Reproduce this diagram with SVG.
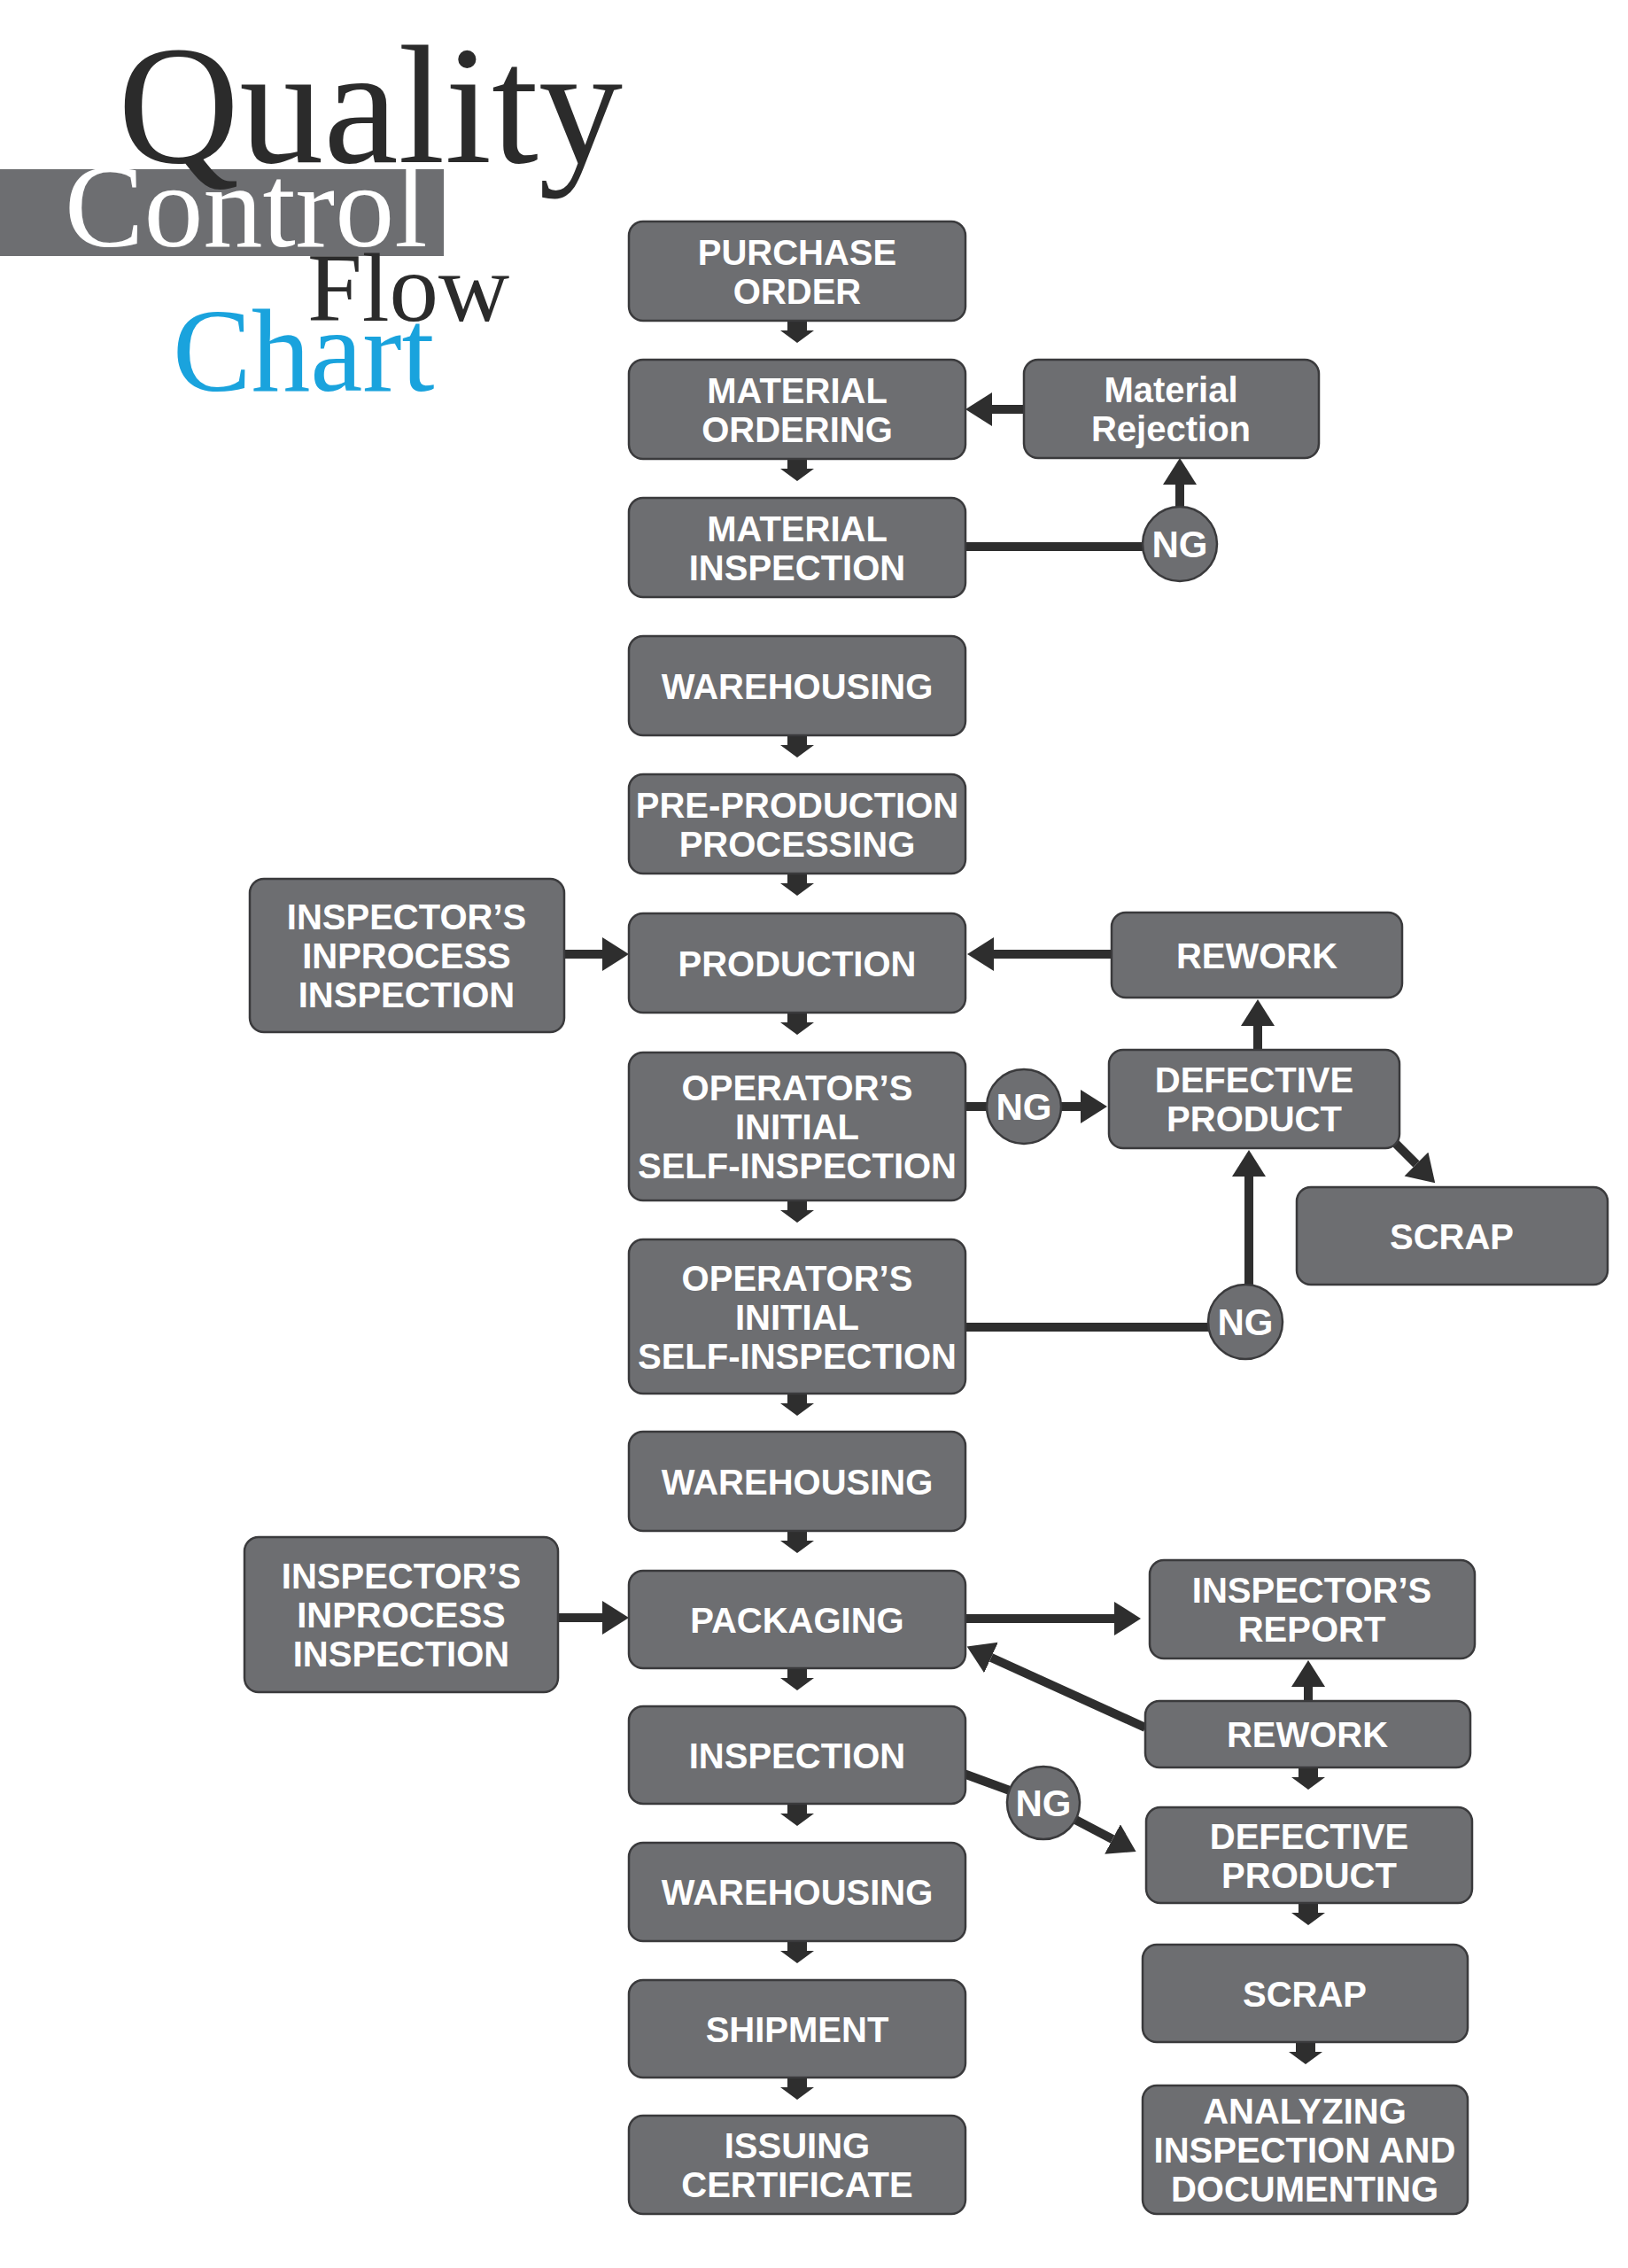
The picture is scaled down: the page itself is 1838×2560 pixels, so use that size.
<svg xmlns="http://www.w3.org/2000/svg" xmlns:xlink="http://www.w3.org/1999/xlink" width="1838" height="2560" viewBox="0 0 1838 2560">
<style>
  .box { fill: #6d6e71; stroke: #3a3a3c; stroke-width: 2.5; }
  .ng { fill: #6d6e71; stroke: #3a3a3c; stroke-width: 2.5; }
  .lbl { font-family: "Liberation Sans", Arial, sans-serif; font-weight: bold; font-size: 40px; fill: #ffffff; text-anchor: middle; }
  .nglbl { font-family: "Liberation Sans", Arial, sans-serif; font-weight: bold; font-size: 42px; fill: #ffffff; text-anchor: middle; }
  .ln { stroke: #2e2e2e; stroke-width: 10; fill: none; }
  .arr { stroke: #2e2e2e; stroke-width: 10; fill: none; marker-end: url(#head); }
  .dn { fill: #2e2e2e; }
  .title { font-family: "Liberation Serif", "Times New Roman", serif; }
</style>
<defs>
  <marker id="head" markerUnits="userSpaceOnUse" markerWidth="32" markerHeight="40" refX="0" refY="19" orient="auto" viewBox="0 0 32 40">
    <path d="M0,0 L30,19 L0,38 Z" fill="#2e2e2e"/>
  </marker>
  <path id="dnarrow" d="M-11,0 H11 V11 H19 L0,25 L-19,11 H-11 Z"/>
</defs>
<rect width="1838" height="2560" fill="#ffffff"/>

<g id="title">
  <rect x="0" y="191" width="501" height="98" fill="#6d6e71"/>
  <text class="title" x="133" y="183" font-size="190" fill="#2b2b2b">Quality</text>
  <text class="title" x="73" y="278" font-size="134" fill="#ffffff">Control</text>
  <text class="title" x="347" y="362" font-size="111" fill="#2b2b2b">Flow</text>
  <text class="title" x="195" y="441" font-size="133" fill="#1aa3dd">Chart</text>
</g>

<g id="connectors">
  <use href="#dnarrow" class="dn" x="900" y="362"/>
  <use href="#dnarrow" class="dn" x="900" y="518"/>
  <use href="#dnarrow" class="dn" x="900" y="830"/>
  <use href="#dnarrow" class="dn" x="900" y="986"/>
  <use href="#dnarrow" class="dn" x="900" y="1143"/>
  <use href="#dnarrow" class="dn" x="900" y="1355"/>
  <use href="#dnarrow" class="dn" x="900" y="1573"/>
  <use href="#dnarrow" class="dn" x="900" y="1728"/>
  <use href="#dnarrow" class="dn" x="900" y="1883"/>
  <use href="#dnarrow" class="dn" x="900" y="2036"/>
  <use href="#dnarrow" class="dn" x="900" y="2191"/>
  <use href="#dnarrow" class="dn" x="900" y="2345"/>
  <use href="#dnarrow" class="dn" x="1477" y="1995"/>
  <use href="#dnarrow" class="dn" x="1477" y="2148"/>
  <use href="#dnarrow" class="dn" x="1474" y="2305"/>

  <line class="arr" x1="1156" y1="462" x2="1120" y2="462"/>
  <line class="ln" x1="1090" y1="617" x2="1300" y2="617"/>
  <line class="arr" x1="1332" y1="580" x2="1332" y2="547"/>

  <line class="arr" x1="637" y1="1077" x2="680" y2="1077"/>
  <line class="arr" x1="1255" y1="1077" x2="1122" y2="1077"/>
  <line class="arr" x1="1420" y1="1185" x2="1420" y2="1158"/>
  <line class="ln" x1="1090" y1="1249" x2="1130" y2="1249"/>
  <line class="arr" x1="1190" y1="1249" x2="1220" y2="1249"/>
  <line class="arr" x1="1572" y1="1287" x2="1599" y2="1314"/>
  <line class="ln" x1="1090" y1="1498" x2="1380" y2="1498"/>
  <line class="arr" x1="1410" y1="1460" x2="1410" y2="1328"/>

  <line class="arr" x1="630" y1="1826" x2="680" y2="1826"/>
  <line class="arr" x1="1090" y1="1827" x2="1258" y2="1827"/>
  <line class="arr" x1="1293" y1="1950" x2="1119" y2="1871"/>
  <line class="arr" x1="1477" y1="1920" x2="1477" y2="1904"/>
  <line class="ln" x1="1088" y1="2002" x2="1178" y2="2035"/>
  <line class="arr" x1="1178" y1="2035" x2="1256" y2="2076"/>
</g>

<g id="purchase-order"><rect class="box" x="710" y="250" width="380" height="112" rx="16"/><text class="lbl" x="900" y="298.5">PURCHASE</text><text class="lbl" x="900" y="342.5">ORDER</text></g>
<g id="material-ordering"><rect class="box" x="710" y="406" width="380" height="112" rx="16"/><text class="lbl" x="900" y="454.5">MATERIAL</text><text class="lbl" x="900" y="498.5">ORDERING</text></g>
<g id="material-inspection"><rect class="box" x="710" y="562" width="380" height="112" rx="16"/><text class="lbl" x="900" y="610.5">MATERIAL</text><text class="lbl" x="900" y="654.5">INSPECTION</text></g>
<g id="warehousing-1"><rect class="box" x="710" y="718" width="380" height="112" rx="16"/><text class="lbl" x="900" y="788.5">WAREHOUSING</text></g>
<g id="pre-production"><rect class="box" x="710" y="874" width="380" height="112" rx="16"/><text class="lbl" x="900" y="922.5" font-size="38.5">PRE-PRODUCTION</text><text class="lbl" x="900" y="966.5">PROCESSING</text></g>
<g id="production"><rect class="box" x="710" y="1031" width="380" height="112" rx="16"/><text class="lbl" x="900" y="1101.5">PRODUCTION</text></g>
<g id="operator-1"><rect class="box" x="710" y="1188" width="380" height="167" rx="16"/><text class="lbl" x="900" y="1242">OPERATOR’S</text><text class="lbl" x="900" y="1286">INITIAL</text><text class="lbl" x="900" y="1330">SELF-INSPECTION</text></g>
<g id="operator-2"><rect class="box" x="710" y="1399" width="380" height="174" rx="16"/><text class="lbl" x="900" y="1456.5">OPERATOR’S</text><text class="lbl" x="900" y="1500.5">INITIAL</text><text class="lbl" x="900" y="1544.5">SELF-INSPECTION</text></g>
<g id="warehousing-2"><rect class="box" x="710" y="1616" width="380" height="112" rx="16"/><text class="lbl" x="900" y="1686.5">WAREHOUSING</text></g>
<g id="packaging"><rect class="box" x="710" y="1773" width="380" height="110" rx="16"/><text class="lbl" x="900" y="1842.5">PACKAGING</text></g>
<g id="inspection"><rect class="box" x="710" y="1926" width="380" height="110" rx="16"/><text class="lbl" x="900" y="1995.5">INSPECTION</text></g>
<g id="warehousing-3"><rect class="box" x="710" y="2080" width="380" height="111" rx="16"/><text class="lbl" x="900" y="2150">WAREHOUSING</text></g>
<g id="shipment"><rect class="box" x="710" y="2235" width="380" height="110" rx="16"/><text class="lbl" x="900" y="2304.5">SHIPMENT</text></g>
<g id="issuing-certificate"><rect class="box" x="710" y="2388" width="380" height="111" rx="16"/><text class="lbl" x="900" y="2436">ISSUING</text><text class="lbl" x="900" y="2480">CERTIFICATE</text></g>

<g id="material-rejection"><rect class="box" x="1156" y="406" width="333" height="111" rx="16"/><text class="lbl" x="1322" y="454">Material</text><text class="lbl" x="1322" y="498">Rejection</text></g>
<g id="ng-1"><circle class="ng" cx="1332" cy="614" r="42"/><text class="nglbl" x="1332" y="629">NG</text></g>

<g id="inspector-inprocess-1"><rect class="box" x="282" y="992" width="355" height="173" rx="16"/><text class="lbl" x="459" y="1049">INSPECTOR’S</text><text class="lbl" x="459" y="1093">INPROCESS</text><text class="lbl" x="459" y="1137">INSPECTION</text></g>
<g id="rework-1"><rect class="box" x="1255" y="1030" width="328" height="96" rx="16"/><text class="lbl" x="1419" y="1092.5">REWORK</text></g>
<g id="defective-1"><rect class="box" x="1252" y="1185" width="328" height="111" rx="16"/><text class="lbl" x="1416" y="1233">DEFECTIVE</text><text class="lbl" x="1416" y="1277">PRODUCT</text></g>
<g id="ng-2"><circle class="ng" cx="1156" cy="1249" r="42"/><text class="nglbl" x="1156" y="1264">NG</text></g>
<g id="scrap-1"><rect class="box" x="1464" y="1340" width="351" height="110" rx="16"/><text class="lbl" x="1639" y="1409.5">SCRAP</text></g>
<g id="ng-3"><circle class="ng" cx="1406" cy="1492" r="42"/><text class="nglbl" x="1406" y="1507">NG</text></g>

<g id="inspector-inprocess-2"><rect class="box" x="276" y="1735" width="354" height="175" rx="16"/><text class="lbl" x="453" y="1793">INSPECTOR’S</text><text class="lbl" x="453" y="1837">INPROCESS</text><text class="lbl" x="453" y="1881">INSPECTION</text></g>
<g id="inspectors-report"><rect class="box" x="1298" y="1761" width="367" height="111" rx="16"/><text class="lbl" x="1481" y="1809">INSPECTOR’S</text><text class="lbl" x="1481" y="1853">REPORT</text></g>
<g id="rework-2"><rect class="box" x="1293" y="1920" width="367" height="75" rx="16"/><text class="lbl" x="1476" y="1972">REWORK</text></g>
<g id="ng-4"><circle class="ng" cx="1178" cy="2035" r="41"/><text class="nglbl" x="1178" y="2050">NG</text></g>
<g id="defective-2"><rect class="box" x="1294" y="2040" width="368" height="108" rx="16"/><text class="lbl" x="1478" y="2086.5">DEFECTIVE</text><text class="lbl" x="1478" y="2130.5">PRODUCT</text></g>
<g id="scrap-2"><rect class="box" x="1290" y="2195" width="367" height="110" rx="16"/><text class="lbl" x="1473" y="2264.5">SCRAP</text></g>
<g id="analyzing"><rect class="box" x="1290" y="2354" width="367" height="145" rx="16"/><text class="lbl" x="1473" y="2397">ANALYZING</text><text class="lbl" x="1473" y="2441">INSPECTION AND</text><text class="lbl" x="1473" y="2485">DOCUMENTING</text></g>
</svg>
